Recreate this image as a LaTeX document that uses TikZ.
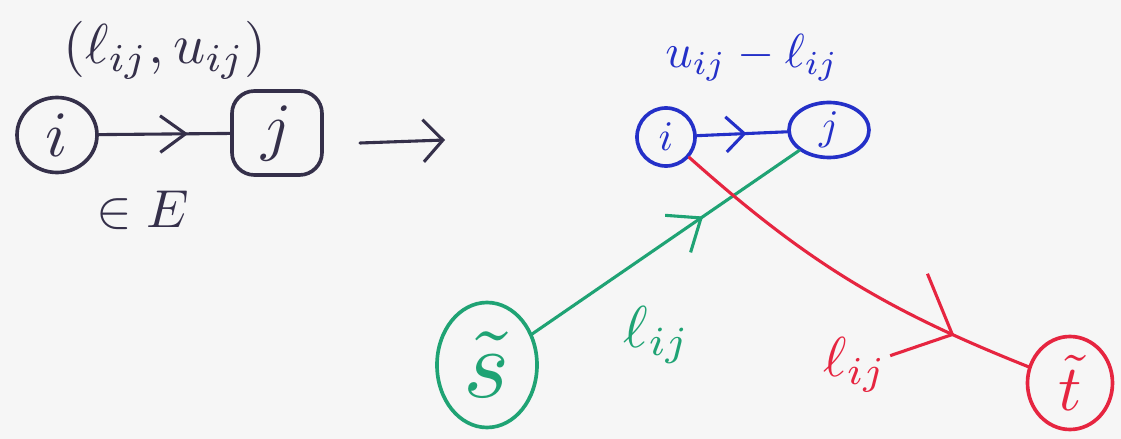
\documentclass[tikz,border=0pt]{standalone}
\usepackage{graphicx}
\usetikzlibrary{shapes.geometric,arrows.meta,decorations.markings}
\definecolor{ink}{HTML}{35304A}
\definecolor{bink}{HTML}{2430C8}
\definecolor{gink}{HTML}{1FA374}
\definecolor{rink}{HTML}{E62540}
\definecolor{paper}{HTML}{F6F6F6}
\newcommand\pxu{0.025cm}
\newcommand\sz[2]{\scalebox{#1}{#2}}
\begin{document}
\begin{tikzpicture}[x=0.025cm,y=-0.025cm,line cap=round,line join=round,
  vert/.style={ellipse,draw,line width=2.6pt,inner sep=0pt},
  edge/.style={line width=2.2pt},
  midarrow/.style n args={2}{postaction={decorate},
    decoration={markings,mark=at position #1 with {\arrow{Straight Barb[#2]}}}}]
\fill[paper] (0,0) rectangle (1121,439);
\useasboundingbox (0,0) rectangle (1121,439);

% ---- left: original arc
\node[vert,ink,minimum width=80*\pxu,minimum height=75*\pxu] (li) at (57,135) {\sz{4.6}{$i$}};
\node[draw,ink,line width=2.6pt,rounded corners=16pt,inner sep=0pt,
      minimum width=90*\pxu,minimum height=84*\pxu] (lj) at (277,133) {\sz{4.6}{$j$}};
\draw[edge,ink,midarrow={0.68}{length=18pt,width=26pt}] (li) -- (lj);
\node[ink] (lab1) at (165,50) {\sz{4}{$(\ell_{ij},u_{ij})$}};
\node[ink] (lab2) at (143,210) {\sz{3.8}{$\in E$}};

% ---- transformation arrow
\coordinate (a0) at (360,143);
\coordinate (a1) at (445,140);
\draw[edge,ink,-{Straight Barb[length=14pt,width=30pt]}] (a0) -- (a1);

% ---- right: transformed network
\node[vert,bink,minimum width=58*\pxu,minimum height=58*\pxu] (bi) at (666,137) {\sz{3}{$i$}};
\node[vert,bink,minimum width=80*\pxu,minimum height=55*\pxu] (bj) at (829,130) {\sz{3}{$j$}};
\draw[edge,bink,midarrow={0.55}{length=13pt,width=25pt}] (bi) -- (bj);
\node[bink] (lab3) at (752,58) {\sz{3.4}{$u_{ij}-\ell_{ij}$}};

\node[vert,gink,minimum width=100*\pxu,minimum height=125*\pxu] (s) at (487,365) {\sz{7}{$\tilde{s}$}};
\draw[edge,gink,midarrow={0.64}{length=20pt,width=32pt}] (s) -- (bj);
\node[gink] (lab4) at (657,335) {\sz{4.2}{$\ell_{ij}$}};

\node[vert,rink,minimum width=85*\pxu,minimum height=93*\pxu] (t) at (1070,383) {\sz{4.6}{$\tilde{t}$}};
\draw[edge,rink,midarrow={0.8}{length=34pt,width=64pt}] (bi) to[bend right=10] (t);
\node[rink] (lab5) at (855,365) {\sz{4}{$\ell_{ij}$}};
\end{tikzpicture}
\end{document}
